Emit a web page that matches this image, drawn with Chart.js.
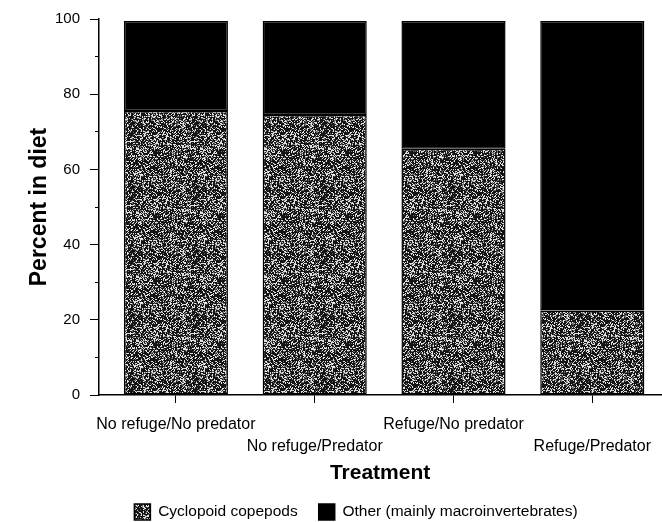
<!DOCTYPE html>
<html>
<head>
<meta charset="utf-8">
<script src="https://cdn.jsdelivr.net/npm/chart.js@4.4.0/dist/chart.umd.min.js"></script>
<style>
  html, body { margin: 0; padding: 0; background: #fff; }
</style>
</head>
<body>
<canvas id="dietChart" width="662" height="522"></canvas>
<script>
const treatments = ['No refuge/No predator', 'No refuge/Predator', 'Refuge/No predator', 'Refuge/Predator'];
const copepods = [75.5, 74.5, 65.5, 22.5];
const other = [24, 25, 34, 77];
const yTickStep = 20;
const yMinorStep = 10;

// stippled grey fill like the printed figure (fixed seed, texture only)
function makeStipple() {
    const size = 64;
    const c = document.createElement('canvas');
    c.width = size; c.height = size;
    const g = c.getContext('2d');
    const img = g.createImageData(size, size);
    let s = 20240611;
    for (let i = 0; i < size * size; i++) {
        s = (Math.imul(s, 1103515245) + 12345) & 0x7fffffff;
        const r = (s >>> 8) / 8388608;
        const v = r < 0.28 ? 225 : (r < 0.42 ? 110 : 20);
        img.data[i * 4] = v;
        img.data[i * 4 + 1] = v;
        img.data[i * 4 + 2] = v;
        img.data[i * 4 + 3] = 255;
    }
    g.putImageData(img, 0, 0);
    return g.createPattern(c, 'repeat');
}

// nudge the legend row to where the printed one sits
const legendShift = {
    id: 'legendShift',
    afterLayout(chart) {
        const lg = chart.legend;
        lg.left += 25; lg.right += 25;
        lg.top += 8; lg.bottom += 8;
    }
};

const ctx = document.getElementById('dietChart').getContext('2d');
const stipple = makeStipple();

new Chart(ctx, {
    type: 'bar',
    plugins: [legendShift],
    data: {
        datasets: [
            {
                label: 'Cyclopoid copepods',
                data: copepods.map((v, i) => ({ x: i, y: v })),
                backgroundColor: stipple,
                borderColor: '#000',
                borderWidth: 1.5,
                borderSkipped: false
            },
            {
                label: 'Other (mainly macroinvertebrates)',
                data: other.map((v, i) => ({ x: i, y: v })),
                backgroundColor: '#000',
                borderColor: '#000',
                borderWidth: 1.5,
                borderSkipped: false
            }
        ]
    },
    options: {
        responsive: false,
        animation: false,
        devicePixelRatio: 1,
        layout: { padding: { left: 0, top: 15, right: 0, bottom: 0 } },
        datasets: {
            bar: { categoryPercentage: 1, barPercentage: 0.75 }
        },
        plugins: {
            legend: {
                position: 'bottom',
                labels: {
                    boxWidth: 16,
                    boxHeight: 16,
                    padding: 21,
                    color: '#000',
                    font: { family: 'Liberation Sans', size: 15.5 }
                }
            },
            tooltip: { enabled: false }
        },
        scales: {
            x: {
                type: 'linear',
                stacked: true,
                offset: false,
                min: -0.554,
                max: 3.496,
                afterBuildTicks: (axis) => {
                    axis.ticks = treatments.map((t, i) => ({ value: i }));
                },
                afterFit: (axis) => { axis.height = 80; },
                ticks: {
                    autoSkip: false,
                    maxRotation: 0,
                    padding: 11,
                    color: '#000',
                    font: { family: 'Liberation Sans', size: 16, lineHeight: 1.375 },
                    callback: function(value) {
                        const name = treatments[value];
                        return value % 2 ? ['', name] : name;
                    }
                },
                grid: {
                    offset: false,
                    drawOnChartArea: false,
                    drawTicks: true,
                    tickLength: 8,
                    color: '#000',
                    tickColor: '#000'
                },
                border: { color: '#000', width: 1.5 },
                title: {
                    display: true,
                    text: 'Treatment',
                    color: '#000',
                    font: { family: 'Liberation Sans', size: 21, weight: 'bold' },
                    padding: { top: 0, bottom: -10.6 }
                }
            },
            y: {
                stacked: true,
                position: 'left',
                min: 0,
                max: 100,
                afterFit: (axis) => { axis.width = 99; },
                ticks: {
                    stepSize: yTickStep,
                    padding: 10,
                    color: '#000',
                    font: { family: 'Liberation Sans', size: 15 }
                },
                grid: {
                    drawOnChartArea: false,
                    tickLength: 9,
                    color: '#000',
                    tickColor: '#000'
                },
                border: { color: '#000', width: 1.5 },
                title: {
                    display: true,
                    text: 'Percent in diet',
                    color: '#000',
                    font: { family: 'Liberation Sans', size: 23, weight: 'bold' },
                    padding: { top: 26, bottom: 0 }
                }
            },
            yMinor: {
                position: 'left',
                weight: -1,
                min: 0,
                max: 100,
                afterFit: (axis) => { axis.width = 0; },
                ticks: { stepSize: yMinorStep, display: false },
                grid: {
                    drawOnChartArea: false,
                    tickLength: 4,
                    color: '#000',
                    tickColor: '#000'
                },
                border: { display: false }
            }
        }
    }
});
</script>
</body>
</html>
